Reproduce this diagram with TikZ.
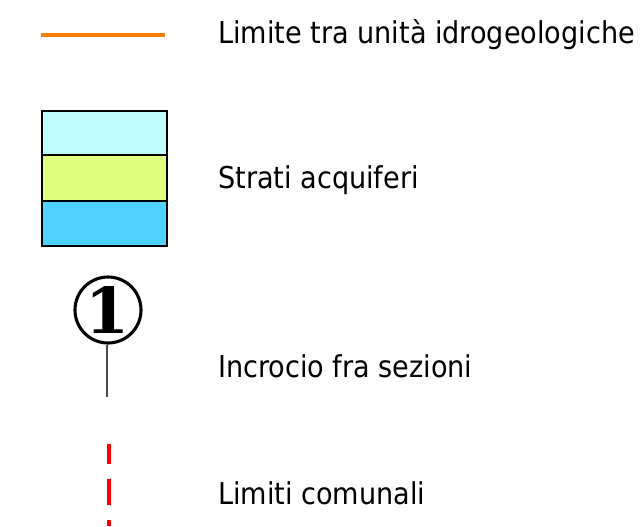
\documentclass[tikz,border=0pt]{standalone}
\usepackage{fontspec}
\setmainfont{DejaVu Sans Condensed}
\newfontfamily\numfont{DejaVu Serif}
\usetikzlibrary{positioning}
\definecolor{limorange}{HTML}{FF8000}
\definecolor{strato1}{HTML}{BFFFFF}
\definecolor{strato2}{HTML}{DFFF7F}
\definecolor{strato3}{HTML}{4FD2FF}

\begin{document}
\begin{tikzpicture}[x=0.025cm,y=-0.025cm,
    voce/.style={draw=none,anchor=base west,inner sep=0pt,font=\fontsize{21.4}{24}\selectfont},
    strato/.style={draw=black,line width=1.4pt}]
    \useasboundingbox (0,0) rectangle (644,526);
    % limite tra unita
    \coordinate (o1) at (41,35);
    \coordinate (o2) at (165,35);
    \draw[limorange,line width=3.5pt] (o1)--(o2);
    \node[voce] (t1) at (218,43) {Limite tra unità idrogeologiche};
    % strati
    \filldraw[strato,fill=strato1] (42,111) rectangle (167,155);
    \filldraw[strato,fill=strato2] (42,155) rectangle (167,201);
    \filldraw[strato,fill=strato3] (42,201) rectangle (167,246);
    \node[voce] (t2) at (218,188) {Strati acquiferi};
    % incrocio
    \node[draw,circle,line width=2.2pt,minimum size=66*0.025cm,inner sep=0pt,
      font=\numfont\fontsize{45}{45}\bfseries] (c1) at (108,310) {\raisebox{-0.5pt}{1}};
    \coordinate (c2) at (107,397);
    \draw[black!70,line width=0.8pt] (c1.south -| c2)--(c2);
    \node[voce] (t3) at (218,377) {Incrocio fra sezioni};
    % limiti comunali
    \coordinate (r1) at (109,444);
    \coordinate (r2) at (109,526);
    \draw[red,line width=2.4pt,dash pattern=on 18.5pt off 10.5pt,dash phase=4.3pt] (r1)--(r2);
    \node[voce] (t4) at (218,504) {Limiti comunali};
\end{tikzpicture}
\end{document}
